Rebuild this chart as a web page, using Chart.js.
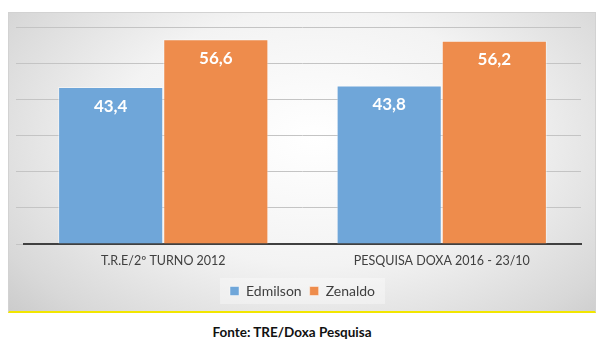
<!DOCTYPE html>
<html>
<head>
<meta charset="utf-8">
<script src="https://cdn.jsdelivr.net/npm/chart.js@4"></script>
<style>
  body { margin: 0; background: #fff; width: 602px; height: 346px; position: relative; overflow: hidden; }
  #box {
    position: absolute; left: 8px; top: 12px; width: 586px; height: 298px;
    border: 1px solid #d2d2d2; border-bottom: 2px solid #f2e600;
    background: radial-gradient(ellipse 75% 95% at 52% 42%, #ffffff 0%, #f3f3f3 45%, #d8d8d8 80%, #c4c4c4 100%);
  }
  #fonte {
    position: absolute; left: -18px; width: 620px; top: 324px; text-align: center;
    font: bold 13.5px Lato, sans-serif; color: #111;
  }
</style>
</head>
<body>
<div id="box"><canvas id="myChart" width="586" height="298"></canvas></div>
<div id="fonte">Fonte: TRE/Doxa Pesquisa</div>
<script>
// categories and values
const labels = ['T.R.E/2º TURNO 2012', 'PESQUISA DOXA 2016 - 23/10'];
const edmilson = [43.4, 43.8];
const zenaldo = [56.6, 56.2];

// decimal comma like the source
function fmt(v) {
  return v.toFixed(1).replace('.', ',');
}

const chartData = {
  labels: labels,
  datasets: [
    {
      label: 'Edmilson',
      data: edmilson,
      backgroundColor: '#6fa6d9',
      borderColor: 'rgba(255,255,255,0.45)',
      borderWidth: 1,
      categoryPercentage: 0.755,
      barPercentage: 1.0,
    },
    {
      label: 'Zenaldo',
      data: zenaldo,
      backgroundColor: '#ee8c4c',
      borderColor: 'rgba(255,255,255,0.45)',
      borderWidth: 1,
      categoryPercentage: 0.755,
      barPercentage: 1.0,
    },
  ]
};

const config = {
  type: 'bar',
  data: chartData,
  options: {
    responsive: false,
    animation: false,
    layout: { padding: { left: 15, right: 14, top: 14, bottom: 3 } },
    plugins: {
      legend: {
        position: 'bottom',
        labels: {
          boxWidth: 9,
          boxHeight: 9,
          padding: 8,
          color: '#404040',
          font: { family: 'Lato', size: 14 }
        }
      },
      tooltip: { enabled: false },
    },
    scales: {
      x: {
        grid: { display: false },
        border: { display: true, color: '#404040', width: 2 },
        ticks: { color: '#404040', font: { family: 'Lato', size: 12.5 }, padding: 1 },
        // leave a gap between the category labels and the legend
        afterFit: (axis) => { axis.height += 7; }
      },
      y: {
        min: 0,
        max: 60,
        ticks: { display: false, stepSize: 10 },
        grid: { color: '#c4c4c4', lineWidth: 1 },
        border: { display: false },
        afterFit: (axis) => { axis.width = 0; }
      }
    }
  },
  plugins: [
    // faint panel behind the legend
    {
      id: 'legendPanel',
      beforeDraw: (chart) => {
        const boxes = chart.legend.legendHitBoxes;
        if (!boxes || !boxes.length) return;
        const first = boxes[0];
        const last = boxes[boxes.length - 1];
        const ctx = chart.ctx;
        ctx.save();
        ctx.fillStyle = 'rgba(255,255,255,0.35)';
        ctx.fillRect(first.left - 10, first.top - 6, last.left + last.width - first.left + 20, first.height + 12);
        ctx.restore();
      }
    },
    // value labels inside the bars
    {
      id: 'valueLabels',
      afterDatasetsDraw: (chart) => {
        const ctx = chart.ctx;
        ctx.save();
        ctx.fillStyle = '#ffffff';
        ctx.font = 'bold 17px Lato';
        ctx.textAlign = 'center';
        ctx.textBaseline = 'middle';
        chart.data.datasets.forEach((ds, i) => {
          chart.getDatasetMeta(i).data.forEach((bar, j) => {
            ctx.fillText(fmt(ds.data[j]), bar.x, bar.y + 19);
          });
        });
        ctx.restore();
      }
    }
  ]
};

const ctx = document.getElementById('myChart').getContext('2d');
new Chart(ctx, config);
</script>
</body>
</html>
